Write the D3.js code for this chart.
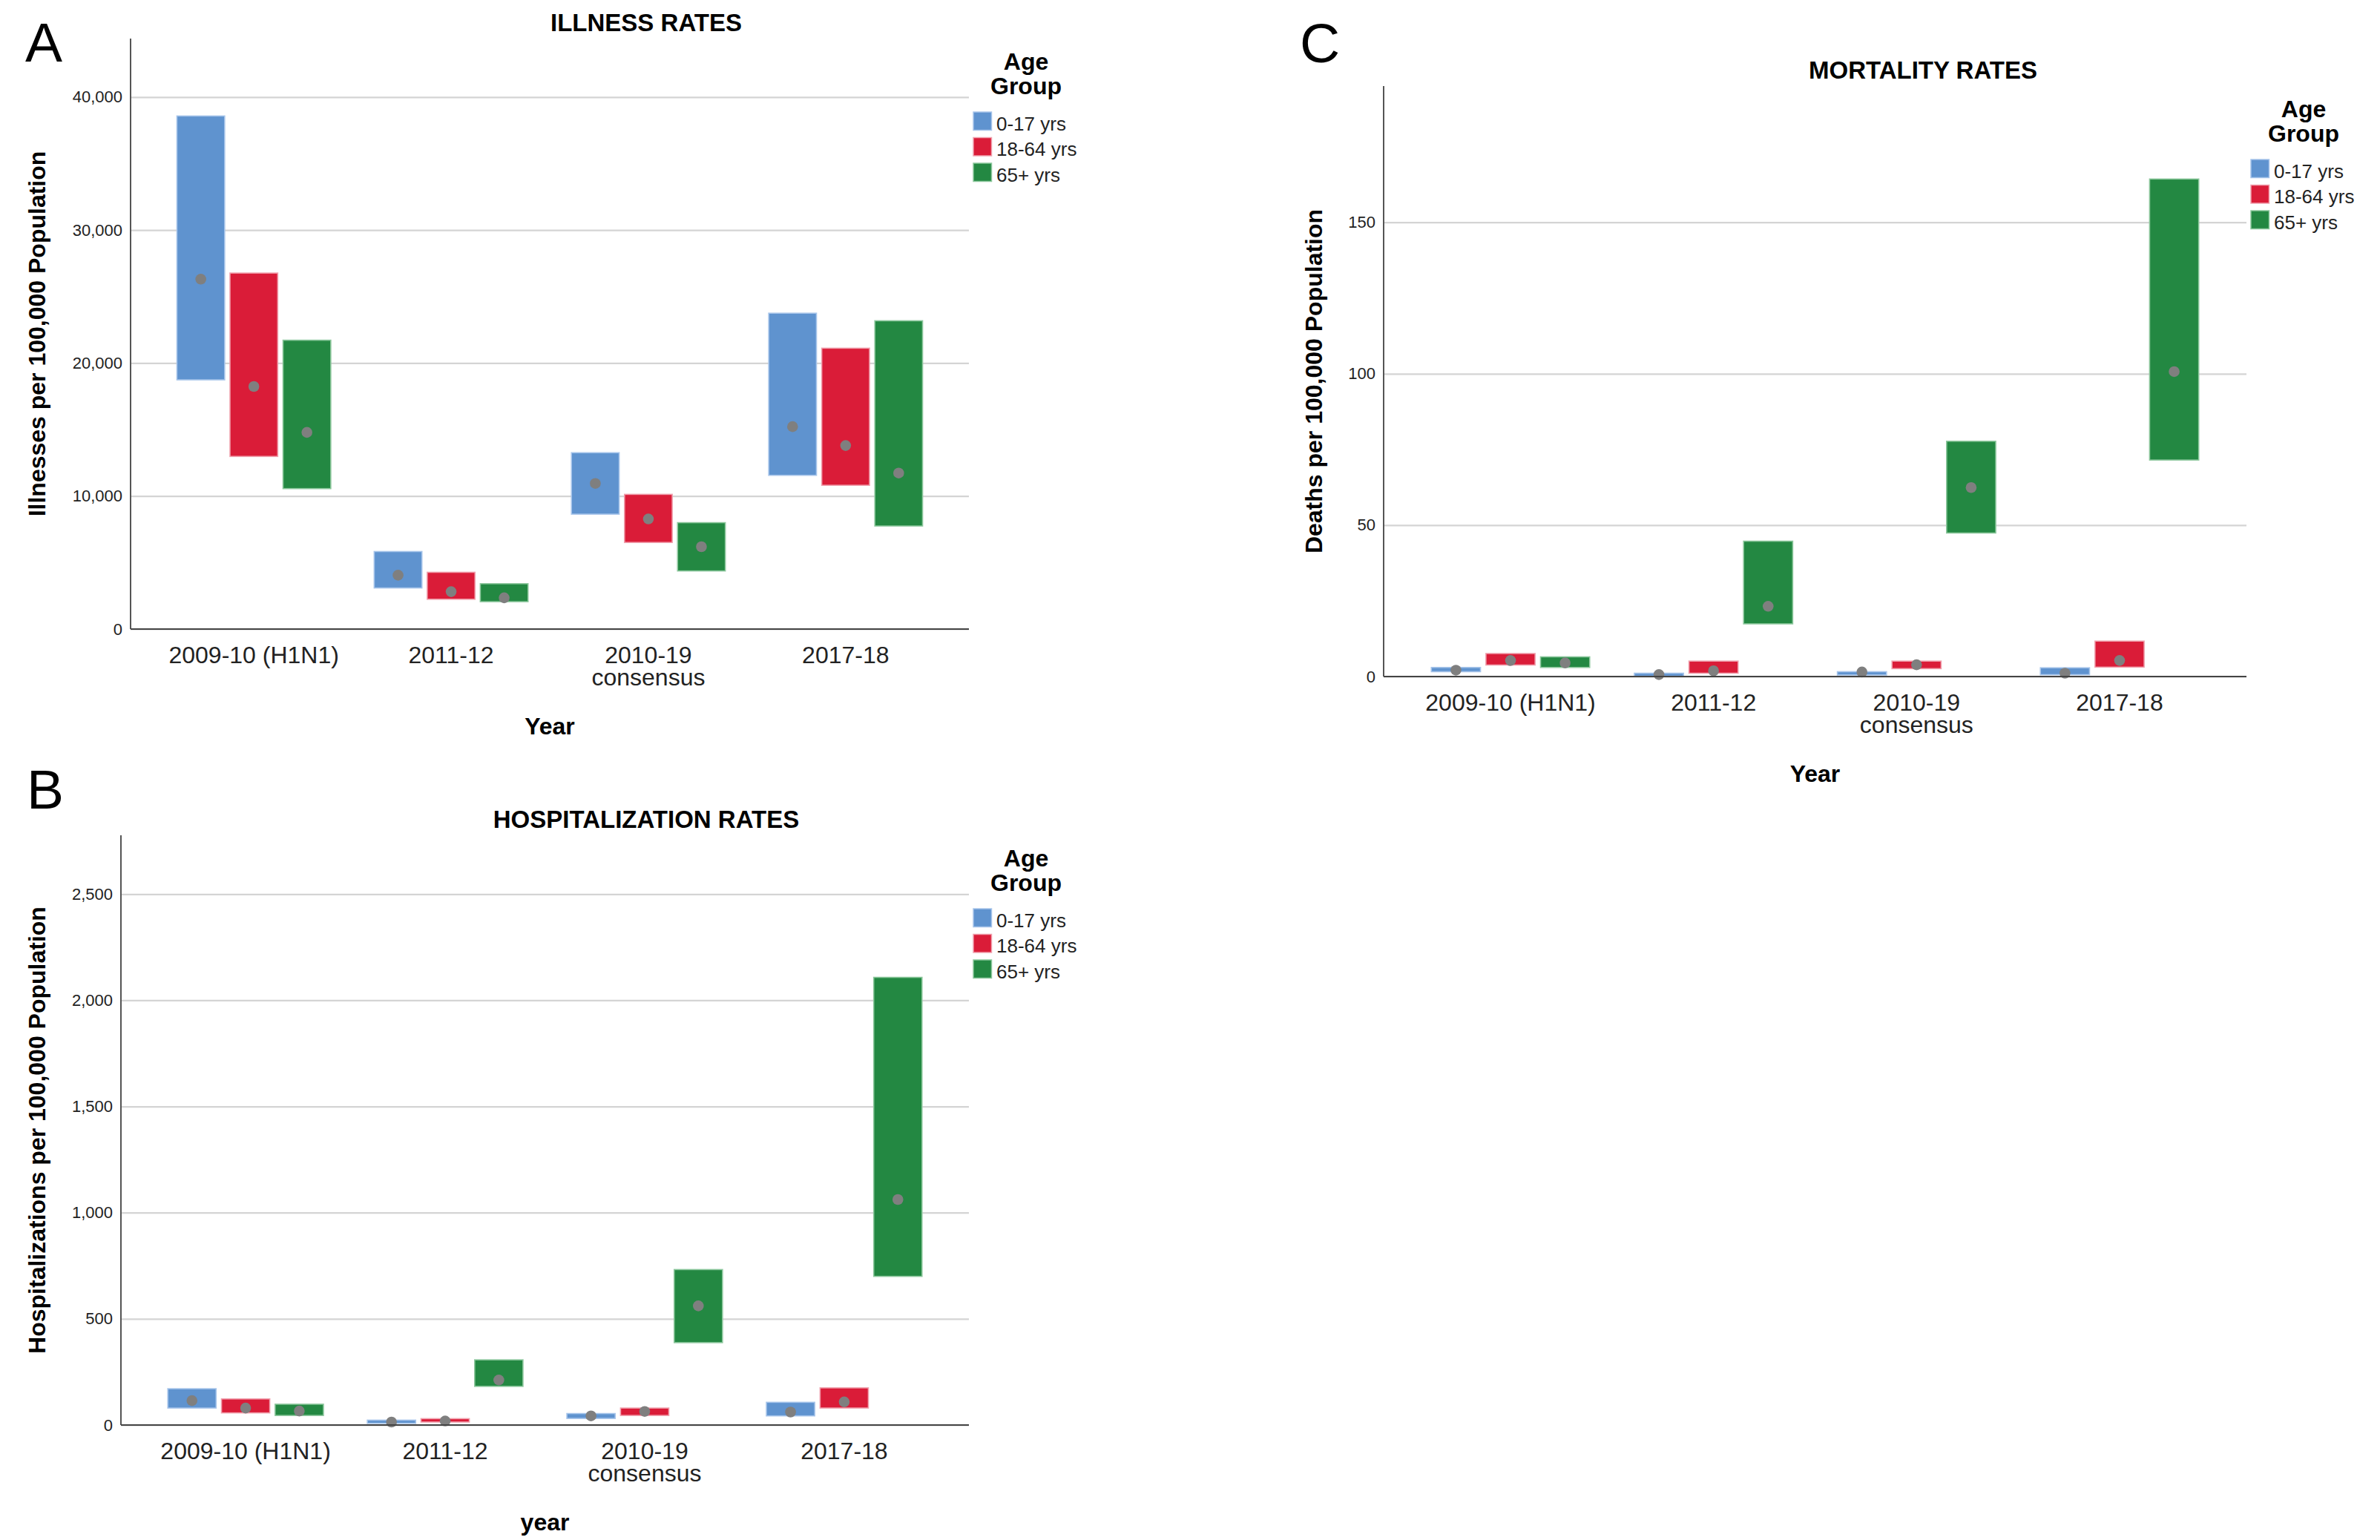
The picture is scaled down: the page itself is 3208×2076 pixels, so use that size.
<!DOCTYPE html>
<html>
<head>
<meta charset="utf-8">
<script src="https://cdn.jsdelivr.net/npm/d3@7"></script>
<style>
    html, body { margin: 0; padding: 0; background: #fff; }
    svg { display: block; font-family: "Liberation Sans", Arial, sans-serif; }
</style>
</head>
<body>
<svg id="chart" width="3208" height="2076"></svg>
<script>
// Seasons on the x axis (second line only where the label wraps)
var categories = ["2009-10 (H1N1)", "2011-12", "2010-19 consensus", "2017-18"];
var categoryLines = [["2009-10 (H1N1)"], ["2011-12"], ["2010-19", "consensus"], ["2017-18"]];
var ageGroups = ["0-17 yrs", "18-64 yrs", "65+ yrs"];
var groupColors = ["#5f93cf", "#da1c38", "#238842"];
var groupEdges = ["#a6c4ea", "#f0a0ad", "#8cc79c"];

// Illnesses per 100,000: one row per season, [0-17, 18-64, 65+]
var illnessLow = [[18740, 12980, 10560], [3090, 2240, 2060], [8640, 6510, 4370], [11560, 10810, 7750]];
var illnessHigh = [[38580, 26770, 21720], [5830, 4270, 3410], [13260, 10130, 8000], [23750, 21120, 23180]];
var illnessMid = [[26310, 18240, 14790], [4050, 2810, 2350], [10950, 8280, 6190], [15220, 13800, 11730]];
var illnessTicks = [0, 10000, 20000, 30000, 40000];

// Hospitalizations per 100,000
var hospLow = [[80, 57, 45], [8, 14, 182], [31, 45, 388], [43, 80, 700]];
var hospHigh = [[171, 123, 98], [23, 30, 307], [54, 80, 732], [107, 175, 2108]];
var hospMid = [[115, 80, 66], [14, 19, 212], [43, 64, 561], [61, 109, 1062]];
var hospTicks = [0, 500, 1000, 1500, 2000, 2500];

// Deaths per 100,000
var mortLow = [[1.6, 3.8, 3.0], [0.1, 1.1, 17.4], [0.5, 2.6, 47.4], [0.6, 3.1, 71.5]];
var mortHigh = [[3.0, 7.6, 6.5], [1.1, 5.1, 44.7], [1.6, 5.1, 77.7], [2.9, 11.7, 164.3]];
var mortMid = [[2.1, 5.3, 4.5], [0.65, 1.9, 23.2], [1.5, 3.9, 62.4], [1.1, 5.3, 100.7]];
var mortTicks = [0, 50, 100, 150];

var svg = d3.select("#chart");

function drawPanel(p) {
    var g = svg.append("g");
    var width = p.right - p.left;

    var y = d3.scaleLinear().domain([0, p.yMax]).range([p.bottom, p.top]);
    var x0 = d3.scaleBand().domain(categories).range([p.left, p.right])
        .paddingInner(0.22).paddingOuter(0.235);
    var x1 = d3.scaleBand().domain(ageGroups).range([0, x0.bandwidth()]).paddingInner(0.1);

    // gridlines + tick labels
    var yAxis = g.append("g")
        .attr("transform", "translate(" + p.left + ",0)")
        .call(d3.axisLeft(y).tickValues(p.ticks).tickSize(-width).tickPadding(11)
            .tickFormat(d3.format(",")));
    yAxis.select(".domain").remove();
    yAxis.selectAll(".tick line").attr("stroke", "#d4d4d4").attr("stroke-width", 2.2);
    yAxis.selectAll(".tick text").attr("font-size", 22).attr("fill", "#222")
        .attr("font-family", "Liberation Sans, Arial, sans-serif");

    // bars (low..high) per season and age group
    var rows = [];
    categories.forEach(function (c, i) {
        ageGroups.forEach(function (a, j) {
            rows.push({ cat: c, group: a, gi: j, lo: p.low[i][j], hi: p.high[i][j], mid: p.mid[i][j] });
        });
    });

    g.selectAll("rect.bar").data(rows).enter().append("rect")
        .attr("class", "bar")
        .attr("x", function (d) { return x0(d.cat) + x1(d.group); })
        .attr("width", x1.bandwidth())
        .attr("y", function (d) { return y(d.hi); })
        .attr("height", function (d) { return Math.max(y(d.lo) - y(d.hi), 1); })
        .attr("fill", function (d) { return groupColors[d.gi]; })
        .attr("stroke", function (d) { return groupEdges[d.gi]; })
        .attr("stroke-width", 1.6);

    g.selectAll("circle.mid").data(rows).enter().append("circle")
        .attr("class", "mid")
        .attr("cx", function (d) { return x0(d.cat) + x1(d.group) + x1.bandwidth() / 2; })
        .attr("cy", function (d) { return y(d.mid); })
        .attr("r", 7.3)
        .attr("fill", "#7f7f7f");

    // axis lines
    g.append("line").attr("x1", p.left).attr("x2", p.left).attr("y1", p.top).attr("y2", p.bottom)
        .attr("stroke", "#555").attr("stroke-width", 2);
    g.append("line").attr("x1", p.left).attr("x2", p.right).attr("y1", p.bottom).attr("y2", p.bottom)
        .attr("stroke", "#444").attr("stroke-width", 2.2);

    // category labels
    var xAxis = g.append("g")
        .attr("transform", "translate(0," + p.bottom + ")")
        .call(d3.axisBottom(x0).tickSize(0).tickFormat(""));
    xAxis.select(".domain").remove();
    xAxis.selectAll(".tick").each(function (d, i) {
        var t = d3.select(this).append("text")
            .attr("fill", "#222").attr("font-size", 32).attr("text-anchor", "middle")
            .attr("font-family", "Liberation Sans, Arial, sans-serif");
        categoryLines[i].forEach(function (line, k) {
            t.append("tspan").attr("x", 0).attr("y", 45.5 + k * 30.5).text(line);
        });
    });

    // titles
    g.append("text").attr("x", p.titleX).attr("y", p.top - 10)
        .attr("text-anchor", "middle").attr("font-size", 33).attr("font-weight", "bold")
        .text(p.title);
    g.append("text").attr("x", p.labelX).attr("y", p.labelY)
        .attr("font-size", 75).text(p.letter);
    g.append("text")
        .attr("transform", "translate(" + p.yTitleX + "," + ((p.top + p.bottom) / 2) + ") rotate(-90)")
        .attr("text-anchor", "middle").attr("font-size", 32).attr("font-weight", "bold")
        .text(p.yTitle);
    g.append("text").attr("x", (p.left + p.right) / 2).attr("y", p.bottom + 142)
        .attr("text-anchor", "middle").attr("font-size", 32).attr("font-weight", "bold")
        .text(p.xTitle);

    // legend
    var lx = p.right + 6, ly = p.top + 99;
    g.append("text").attr("x", lx + 71).attr("y", ly - 57)
        .attr("text-anchor", "middle").attr("font-size", 32).attr("font-weight", "bold").text("Age");
    g.append("text").attr("x", lx + 71).attr("y", ly - 24)
        .attr("text-anchor", "middle").attr("font-size", 32).attr("font-weight", "bold").text("Group");
    var item = g.selectAll("g.legend").data(ageGroups).enter().append("g")
        .attr("class", "legend")
        .attr("transform", function (d, i) { return "translate(" + lx + "," + (ly + i * 34.5) + ")"; });
    item.append("rect").attr("width", 24.5).attr("height", 24.5)
        .attr("fill", function (d, i) { return groupColors[i]; })
        .attr("stroke", function (d, i) { return groupEdges[i]; }).attr("stroke-width", 1.5);
    item.append("text").attr("x", 31).attr("y", 24.5).attr("font-size", 26).attr("fill", "#222")
        .text(function (d) { return d; });
}

drawPanel({
    letter: "A", title: "ILLNESS RATES", xTitle: "Year", yTitle: "Illnesses per 100,000 Population",
    low: illnessLow, high: illnessHigh, mid: illnessMid, ticks: illnessTicks, yMax: 44400,
    left: 176, right: 1306, top: 52, bottom: 848,
    titleX: 871, labelX: 34, labelY: 83, yTitleX: 61
});

drawPanel({
    letter: "B", title: "HOSPITALIZATION RATES", xTitle: "year",
    yTitle: "Hospitalizations per 100,000 Population",
    low: hospLow, high: hospHigh, mid: hospMid, ticks: hospTicks, yMax: 2777,
    left: 163, right: 1306, top: 1126, bottom: 1921,
    titleX: 871, labelX: 36, labelY: 1090, yTitleX: 61
});

drawPanel({
    letter: "C", title: "MORTALITY RATES", xTitle: "Year", yTitle: "Deaths per 100,000 Population",
    low: mortLow, high: mortHigh, mid: mortMid, ticks: mortTicks, yMax: 195,
    left: 1865, right: 3028, top: 116, bottom: 912,
    titleX: 2592, labelX: 1752, labelY: 84, yTitleX: 1782
});
</script>
</body>
</html>
